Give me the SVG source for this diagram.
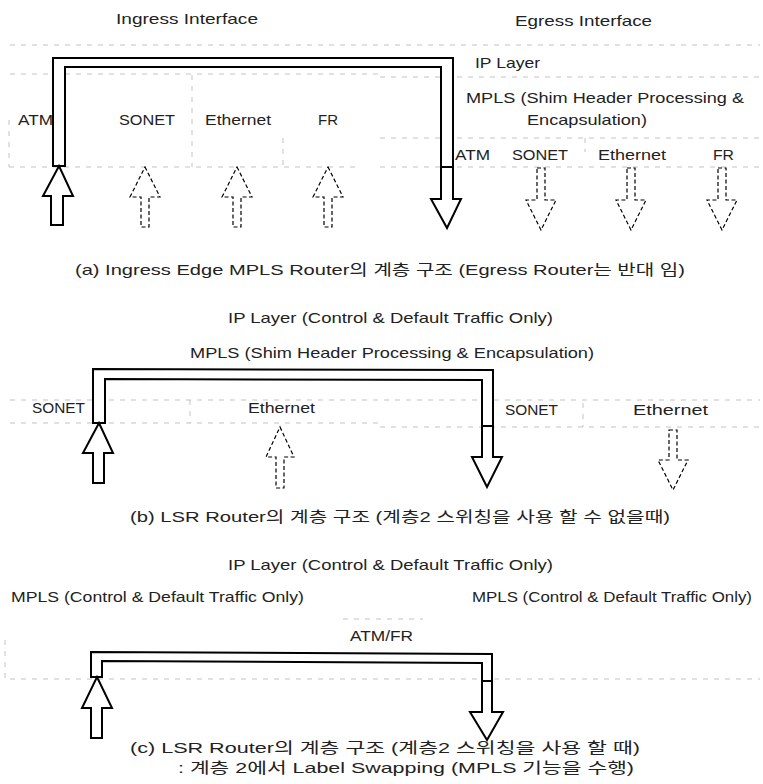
<svg xmlns="http://www.w3.org/2000/svg" width="763" height="784" viewBox="0 0 763 784">
<defs>
<style>
text{font-family:"Liberation Sans","Noto Sans CJK KR",sans-serif;font-size:15px;fill:#222}
.pipe{fill:#fff;stroke:#000;stroke-width:2;stroke-linejoin:miter}
.dash{fill:#fff;stroke:#000;stroke-width:1.2;stroke-dasharray:4 2.5}
.grid{fill:none;stroke:#aaa;stroke-width:0.7;stroke-dasharray:5 6}
</style>
</defs>
<rect width="763" height="784" fill="#fff"/>

<g id="layer-lines">
<path class="grid" d="M10 45H760 M10 74H380 M380 77H760 M9 120V167 M192 75V167 M283 138V167 M9 167H355 M380 138H760 M585 138V152 M380 167H760"/>
<path class="grid" d="M10 400H760 M10 423H380 M380 427H760 M190 400V423 M583 403V427"/>
<path class="grid" d="M10 679H760 M5 640V678 M343 619H423"/>
</g>

<g id="section-a">
<text x="116" y="24" textLength="142" lengthAdjust="spacingAndGlyphs">Ingress Interface</text>
<text x="515" y="26" textLength="137" lengthAdjust="spacingAndGlyphs">Egress Interface</text>
<text x="475" y="68" textLength="65" lengthAdjust="spacingAndGlyphs">IP Layer</text>
<text x="466" y="103" textLength="278" lengthAdjust="spacingAndGlyphs">MPLS (Shim Header Processing &amp;</text>
<text x="527" y="125" textLength="120" lengthAdjust="spacingAndGlyphs">Encapsulation)</text>
<text x="18" y="125" textLength="35" lengthAdjust="spacingAndGlyphs">ATM</text>
<text x="119" y="125" textLength="56" lengthAdjust="spacingAndGlyphs">SONET</text>
<text x="205" y="125" textLength="66" lengthAdjust="spacingAndGlyphs">Ethernet</text>
<text x="318" y="125" textLength="20" lengthAdjust="spacingAndGlyphs">FR</text>
<text x="455" y="160" textLength="35" lengthAdjust="spacingAndGlyphs">ATM</text>
<text x="512" y="160" textLength="56" lengthAdjust="spacingAndGlyphs">SONET</text>
<text x="598" y="160" textLength="68" lengthAdjust="spacingAndGlyphs">Ethernet</text>
<text x="713" y="160" textLength="21" lengthAdjust="spacingAndGlyphs">FR</text>
<text x="75" y="275" textLength="610" lengthAdjust="spacingAndGlyphs">(a)  Ingress Edge MPLS Router의 계층 구조 (Egress Router는 반대 임)</text>
</g>

<g id="section-b">
<text x="228" y="323" textLength="325" lengthAdjust="spacingAndGlyphs">IP Layer (Control &amp; Default Traffic Only)</text>
<text x="190" y="358" textLength="404" lengthAdjust="spacingAndGlyphs">MPLS (Shim Header Processing &amp; Encapsulation)</text>
<text x="32" y="413" textLength="53" lengthAdjust="spacingAndGlyphs">SONET</text>
<text x="248" y="413" textLength="67" lengthAdjust="spacingAndGlyphs">Ethernet</text>
<text x="505" y="415" textLength="53" lengthAdjust="spacingAndGlyphs">SONET</text>
<text x="633" y="415" textLength="75" lengthAdjust="spacingAndGlyphs">Ethernet</text>
<text x="130" y="522" textLength="540" lengthAdjust="spacingAndGlyphs">(b)  LSR Router의 계층 구조 (계층2 스위칭을 사용 할 수 없을때)</text>
</g>

<g id="section-c">
<text x="228" y="570" textLength="325" lengthAdjust="spacingAndGlyphs">IP Layer (Control &amp; Default Traffic Only)</text>
<text x="11" y="602" textLength="293" lengthAdjust="spacingAndGlyphs">MPLS (Control &amp; Default Traffic Only)</text>
<text x="472" y="602" textLength="280" lengthAdjust="spacingAndGlyphs">MPLS (Control &amp; Default Traffic Only)</text>
<text x="350" y="641" textLength="63" lengthAdjust="spacingAndGlyphs">ATM/FR</text>
<text x="130" y="753" textLength="510" lengthAdjust="spacingAndGlyphs">(c)  LSR Router의 계층 구조 (계층2 스위칭을 사용 할 때)</text>
<text x="178" y="773" textLength="456" lengthAdjust="spacingAndGlyphs">: 계층 2에서 Label Swapping (MPLS 기능을 수행)</text>
</g>

<g id="connectors">
<!-- (a) -->
<polygon id="a-path" class="pipe" points="53,166 53,58 453,58 453,167 441,167 441,67 65,67 65,166"/>
<polygon id="a-in" class="pipe" points="59,166 73,196 63,196 63,225 51,225 51,196 43,196"/>
<polygon id="a-out" class="pipe" points="441,167 453,167 453,199 461,199 447,228 431,199 441,199"/>
<polygon class="dash" points="145,167 160,197 149,197 149,227 141,227 141,197 130,197"/>
<polygon class="dash" points="237,167 252,197 241,197 241,227 233,227 233,197 222,197"/>
<polygon class="dash" points="328,167 343,197 332,197 332,227 324,227 324,197 313,197"/>
<polygon class="dash" points="537,168 545,168 545,200 556,200 541,230 526,200 537,200"/>
<polygon class="dash" points="627,168 635,168 635,200 646,200 631,230 616,200 627,200"/>
<polygon class="dash" points="718,168 726,168 726,200 737,200 722,230 707,200 718,200"/>
<!-- (b) -->
<polygon id="b-path" class="pipe" points="93,423 93,369 493,370 493,426 482,426 482,380 105,379 105,423"/>
<polygon id="b-in" class="pipe" points="99,423 113,453 104,453 104,483 93,483 93,453 83,453"/>
<polygon id="b-out" class="pipe" points="482,426 493,426 493,457 502,457 487,487 472,457 482,457"/>
<polygon class="dash" points="280,427 294,457 284,457 284,488 276,488 276,457 266,457"/>
<polygon class="dash" points="669,430 677,430 677,460 688,460 673,490 658,460 669,460"/>
<!-- (c) -->
<polygon id="c-path" class="pipe" points="91,677 91,652 492,654 492,681 482,681 482,663 102,661 102,677"/>
<polygon id="c-in" class="pipe" points="97,677 112,708 102,708 102,738 91,738 91,708 82,708"/>
<polygon id="c-out" class="pipe" points="482,681 492,681 492,712 503,712 487,740 470,712 482,712"/>
</g>
</svg>
